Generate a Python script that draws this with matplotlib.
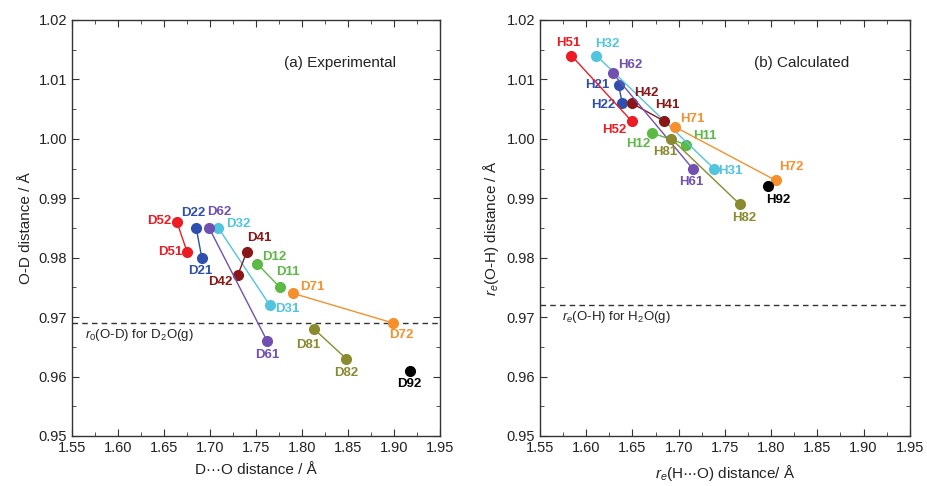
import numpy as np
import matplotlib.pyplot as plt
from matplotlib.ticker import MultipleLocator

plt.rcParams['font.family'] = ['Liberation Sans', 'DejaVu Sans']
plt.rcParams['mathtext.fontset'] = 'custom'
plt.rcParams['mathtext.rm'] = 'Liberation Sans'
plt.rcParams['mathtext.it'] = 'Liberation Sans:italic'

# pairs: label, x1, y1, x2, y2  (experimental, D2O)
exp_names = ['1', '2', '3', '4', '5', '6', '7', '8']
exp_x1 = [1.776, 1.691, 1.765, 1.740, 1.675, 1.762, 1.790, 1.813]
exp_y1 = [0.975, 0.980, 0.972, 0.981, 0.981, 0.966, 0.974, 0.968]
exp_x2 = [1.751, 1.685, 1.709, 1.730, 1.664, 1.699, 1.899, 1.848]
exp_y2 = [0.979, 0.985, 0.985, 0.977, 0.986, 0.985, 0.969, 0.963]
exp_x9, exp_y9 = 1.917, 0.961

# calculated, H2O
calc_x1 = [1.708, 1.635, 1.738, 1.684, 1.584, 1.715, 1.696, 1.692]
calc_y1 = [0.999, 1.009, 0.995, 1.003, 1.014, 0.995, 1.002, 1.000]
calc_x2 = [1.671, 1.639, 1.611, 1.649, 1.649, 1.629, 1.805, 1.766]
calc_y2 = [1.001, 1.006, 1.014, 1.006, 1.003, 1.011, 0.993, 0.989]
calc_x9, calc_y9 = 1.797, 0.992

ref_exp = 0.969
ref_calc = 0.972

colors = ['#5cb946', '#2f4fae', '#52c4de', '#8a1717', '#ec1c24',
          '#7150b0', '#f6902d', '#8a8a30']

# label offsets in pixels (dx, dy)
off_exp = {
    'D11': (8, 15), 'D12': (17, 7), 'D21': (-2, -13), 'D22': (-3, 15),
    'D31': (17, -4), 'D32': (20, 4), 'D41': (12, 14), 'D42': (-17, -7),
    'D51': (-17, 0), 'D52': (-18, 1), 'D61': (0, -14), 'D62': (10, 16),
    'D71': (19, 6), 'D72': (8, -12), 'D81': (-6, -16), 'D82': (0, -14),
    'D92': (0, -13),
}
off_calc = {
    'H11': (19, 9), 'H12': (-14, -11), 'H21': (-21, 0), 'H22': (-19, -2),
    'H31': (16, -2), 'H32': (11, 12), 'H41': (3, 16), 'H42': (15, 10),
    'H51': (-3, 13), 'H52': (-17, -9), 'H61': (-1, -13), 'H62': (17, 8),
    'H71': (17, 8), 'H72': (16, 13), 'H81': (-6, -13), 'H82': (4, -14),
    'H92': (10, -14),
}


def draw_panel(ax, x1, y1, x2, y2, x9, y9, pre, offs):
    for i, n in enumerate(exp_names):
        c = colors[i]
        ax.plot([x1[i], x2[i]], [y1[i], y2[i]], '-', color=c, lw=1.0,
                marker='o', ms=7, zorder=3)
        for lab, xx, yy in [(pre + n + '1', x1[i], y1[i]), (pre + n + '2', x2[i], y2[i])]:
            ax.annotate(lab, (xx, yy), xytext=offs[lab], textcoords='offset pixels',
                        ha='center', va='center', color=c, fontsize=9.5,
                        fontweight='bold')
    ax.plot([x9], [y9], 'o', color='black', ms=7, zorder=3)
    lab = pre + '92'
    ax.annotate(lab, (x9, y9), xytext=offs[lab], textcoords='offset pixels',
                ha='center', va='center', color='black', fontsize=9.5,
                fontweight='bold')


def style(ax):
    ax.set_xlim(1.55, 1.95)
    ax.set_ylim(0.95, 1.02)
    ax.xaxis.set_major_locator(MultipleLocator(0.05))
    ax.xaxis.set_minor_locator(MultipleLocator(0.025))
    ax.yaxis.set_major_locator(MultipleLocator(0.01))
    ax.yaxis.set_minor_locator(MultipleLocator(0.005))
    ax.xaxis.set_major_formatter(lambda v, p: f"{v:.2f}")
    ax.yaxis.set_major_formatter(lambda v, p: f"{v:.2f}")
    ax.tick_params(which='both', direction='in', top=True, right=True,
                   labelsize=10.5, colors='#333333', labelcolor='#222222')
    ax.tick_params(which='major', length=5)
    ax.tick_params(which='minor', length=3)
    for s in ax.spines.values():
        s.set_color('#333333')
        s.set_linewidth(1.0)


fig = plt.figure(figsize=(9.27, 4.86), dpi=100)
ax1 = fig.add_axes([0.0777, 0.103, 0.397, 0.856])
ax2 = fig.add_axes([0.5825, 0.103, 0.399, 0.856])

draw_panel(ax1, exp_x1, exp_y1, exp_x2, exp_y2, exp_x9, exp_y9, 'D', off_exp)
draw_panel(ax2, calc_x1, calc_y1, calc_x2, calc_y2, calc_x9, calc_y9, 'H', off_calc)

ax1.axhline(ref_exp, color='#333333', ls=(0, (4, 3)), lw=1.0, zorder=1)
ax2.axhline(ref_calc, color='#333333', ls=(0, (4, 3)), lw=1.0, zorder=1)
ax1.text(0.035, ref_exp - 0.0006, r'$r_0$(O-D) for D$_2$O(g)', fontsize=9.5,
         transform=ax1.get_yaxis_transform(), va='top', ha='left', color='#222222')
ax2.text(0.06, ref_calc - 0.0006, r'$r_e$(O-H) for H$_2$O(g)', fontsize=9.5,
         transform=ax2.get_yaxis_transform(), va='top', ha='left', color='#222222')

ax1.text(0.728, 0.897, '(a) Experimental', transform=ax1.transAxes,
         ha='center', va='center', fontsize=11, color='#222222')
ax2.text(0.708, 0.897, '(b) Calculated', transform=ax2.transAxes,
         ha='center', va='center', fontsize=11, color='#222222')

style(ax1)
style(ax2)
ax1.set_xlabel('D\u00b7\u00b7\u00b7O distance / \u00c5', fontsize=11, color='#222222', labelpad=6)
ax1.set_ylabel('O-D distance / \u00c5', fontsize=11, color='#222222')
ax2.set_xlabel(r'$r_e$(H$\cdots$O) distance/ $\mathrm{\AA}$', fontsize=11, color='#222222', labelpad=6)
ax2.set_ylabel(r'$r_e$(O-H) distance / $\mathrm{\AA}$', fontsize=11, color='#222222')

fig.savefig('out.png', dpi=100)
